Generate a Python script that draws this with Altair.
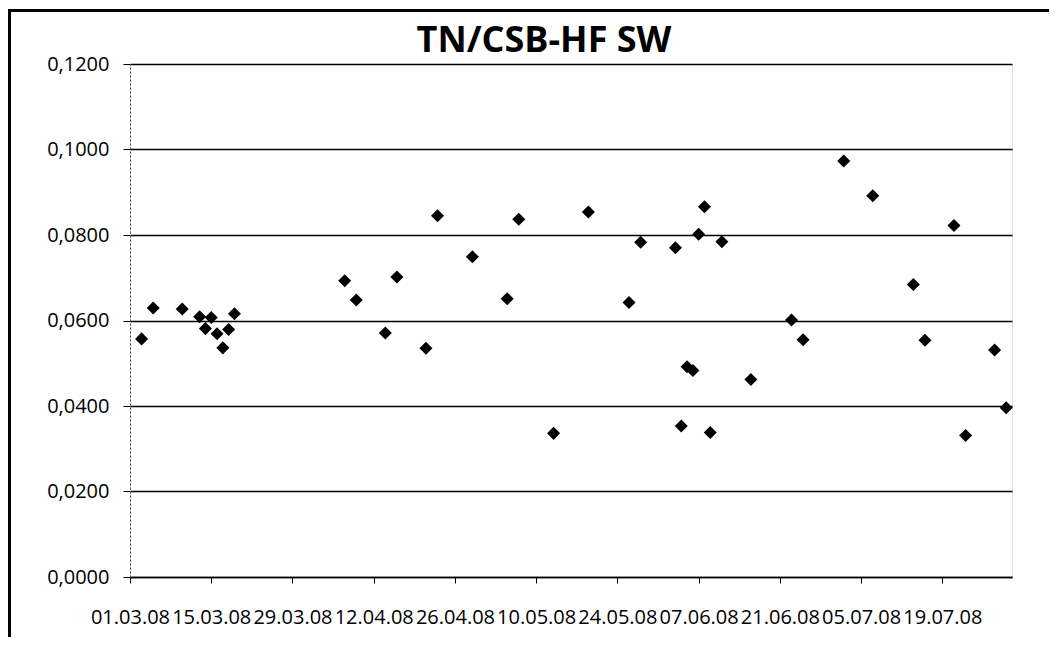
import altair as alt
import pandas as pd

dates = ["2008-03-03", "2008-03-05", "2008-03-10", "2008-03-13", "2008-03-14",
         "2008-03-15", "2008-03-16", "2008-03-17", "2008-03-18", "2008-03-19",
         "2008-04-07", "2008-04-09", "2008-04-14", "2008-04-16", "2008-04-21",
         "2008-04-23", "2008-04-29", "2008-05-05", "2008-05-07", "2008-05-13",
         "2008-05-19", "2008-05-26", "2008-05-28", "2008-06-03", "2008-06-04",
         "2008-06-05", "2008-06-06", "2008-06-07", "2008-06-08", "2008-06-09",
         "2008-06-11", "2008-06-16", "2008-06-23", "2008-06-25", "2008-07-02",
         "2008-07-07", "2008-07-14", "2008-07-16", "2008-07-21", "2008-07-23",
         "2008-07-28", "2008-07-30"]
values = [0.0557, 0.0629, 0.0627, 0.0609, 0.0581, 0.0607, 0.0569, 0.0536, 0.0579, 0.0616,
          0.0693, 0.0648, 0.0571, 0.0702, 0.0535, 0.0845, 0.0749, 0.0651, 0.0837, 0.0336,
          0.0854, 0.0642, 0.0783, 0.0770, 0.0353, 0.0492, 0.0483, 0.0802, 0.0866, 0.0338,
          0.0784, 0.0462, 0.0601, 0.0555, 0.0973, 0.0892, 0.0684, 0.0554, 0.0822, 0.0331,
          0.0531, 0.0396]

tick_months = [3, 3, 3, 4, 4, 5, 5, 6, 6, 7, 7]
tick_days = [1, 15, 29, 12, 26, 10, 24, 7, 21, 5, 19]
y_ticks = [0, 0.02, 0.04, 0.06, 0.08, 0.10, 0.12]

df = pd.DataFrame({"date": [d + "T00:00:00" for d in dates], "value": values})

FONT = "Open Sans"

x_enc = alt.X(
    "date:T",
    scale=alt.Scale(domain=[alt.DateTime(year=2008, month=3, date=1),
                            alt.DateTime(year=2008, month=7, date=31)]),
    axis=alt.Axis(
        title=None,
        values=[alt.DateTime(year=2008, month=m, date=d) for m, d in zip(tick_months, tick_days)],
        format="%d.%m.%y",
        labelFont=FONT, labelFontSize=20, labelColor="black",
        labelOverlap=False, labelFlush=False, labelBound=False,
        labelPadding=24, tickSize=6, tickColor="black",
        domainColor="black", domainWidth=1.5, grid=False,
    ),
)
y_enc = alt.Y(
    "value:Q",
    scale=alt.Scale(domain=[0, 0.12], nice=False),
    axis=alt.Axis(
        title=None,
        values=y_ticks,
        labelExpr="replace(format(datum.value, '.4f'), '.', ',')",
        labelFont=FONT, labelFontSize=20, labelColor="black",
        labelPadding=14, tickSize=7, tickColor="black",
        domainColor="#444", domainDash=[2, 2], domainWidth=1,
        grid=True, gridColor="black", gridWidth=1.4, gridOpacity=1,
    ),
)

points = alt.Chart(df).mark_point(
    shape="diamond", filled=True, color="black", size=170, opacity=1
).encode(x=x_enc, y=y_enc)

frame_top = alt.Chart(df).mark_rule(color="black", strokeWidth=2.5).encode(
    x=alt.value(-122), x2=alt.value(925), y=alt.value(-53.5)
)
frame_left = alt.Chart(df).mark_rule(color="black", strokeWidth=2.5).encode(
    x=alt.value(-120.5), y=alt.value(-54), y2=alt.value(580)
)

chart = alt.layer(points, frame_top, frame_left).properties(
    width=882,
    height=513,
    title=alt.TitleParams(
        "TN/CSB-HF SW", font=FONT, fontSize=36, fontWeight="bold",
        color="black", anchor="middle", dx=-27, dy=55, offset=4,
    ),
    autosize=alt.AutoSizeParams(type="none"),
    padding={"left": 122, "top": 56, "right": 37, "bottom": 60},
).configure_view(stroke=None).configure(background="white")

chart.save("out.html", embed_options={"renderer": "svg", "actions": False})
